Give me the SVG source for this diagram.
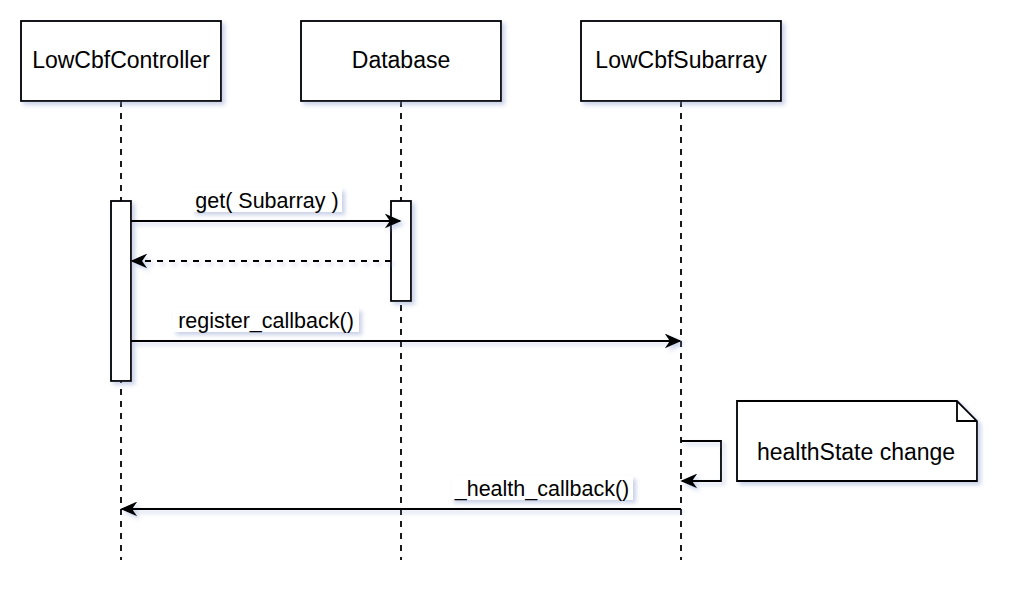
<svg xmlns="http://www.w3.org/2000/svg" width="1010" height="594" viewBox="0 0 1010 594">
<defs>
<filter id="sh" filterUnits="userSpaceOnUse" x="0" y="0" width="1010" height="594"><feDropShadow dx="3" dy="3" stdDeviation="2" flood-color="#8899cc" flood-opacity="0.45"/></filter>
<marker id="ah" viewBox="0 0 10 10" refX="9" refY="5" markerWidth="17" markerHeight="15" orient="auto" markerUnits="userSpaceOnUse" preserveAspectRatio="none"><path d="M0,0 L10,5 L0,10 L3,5 Z" fill="#000"/></marker>
</defs>
<style>
.b{fill:#fff;stroke:#000;stroke-width:1.8}
.ll{stroke:#000;stroke-width:1.8;stroke-dasharray:6 6;fill:none}
.c{stroke:#000;stroke-width:1.8;fill:none;marker-end:url(#ah)}
text{font-family:"Liberation Sans",Arial,sans-serif;font-size:23px;text-anchor:middle;fill:#000}
.s{font-size:21.5px}
.lb{fill:#fff}
</style>
<g id="lifelines">
<line class="ll" x1="121" y1="101" x2="121" y2="560"/>
<line class="ll" x1="401" y1="101" x2="401" y2="560"/>
<line class="ll" x1="681" y1="101" x2="681" y2="560"/>
</g>
<g id="controller"><rect class="b" filter="url(#sh)" x="21" y="21" width="200" height="80"/><text x="121" y="68">LowCbfController</text></g>
<g id="database"><rect class="b" filter="url(#sh)" x="301" y="21" width="200" height="80"/><text x="401" y="68">Database</text></g>
<g id="subarray"><rect class="b" filter="url(#sh)" x="581" y="21" width="200" height="80"/><text x="681" y="68">LowCbfSubarray</text></g>
<g id="act-controller"><rect class="b" filter="url(#sh)" x="111" y="201" width="20" height="180"/></g>
<g id="act-database"><rect class="b" filter="url(#sh)" x="391" y="201" width="20" height="100"/></g>
<g id="note"><path class="b" filter="url(#sh)" d="M737,401 H957 L977,421 V481 H737 Z"/><path d="M957,401 V421 H977" fill="none" stroke="#000" stroke-width="1.8"/><text x="856" y="460">healthState change</text></g>
<g id="connectors">
<line class="c" filter="url(#sh)" x1="131" y1="221" x2="400" y2="221"/>
<line class="c" filter="url(#sh)" x1="391" y1="261" x2="132" y2="261" stroke-dasharray="6 6"/>
<line class="c" filter="url(#sh)" x1="131" y1="341" x2="680" y2="341"/>
<path class="c" filter="url(#sh)" d="M681,441 H721 V481 H682"/>
<line class="c" filter="url(#sh)" x1="681" y1="509" x2="122" y2="509"/>
<rect class="lb" filter="url(#sh)" x="192" y="188" width="150" height="24"/><text class="s" x="267" y="208">get( Subarray )</text>
<rect class="lb" filter="url(#sh)" x="173" y="308" width="186" height="24"/><text class="s" x="266" y="328">register_callback()</text>
<rect class="lb" filter="url(#sh)" x="451" y="476" width="182" height="24"/><text class="s" x="542" y="496">_health_callback()</text>
</g>
</svg>
